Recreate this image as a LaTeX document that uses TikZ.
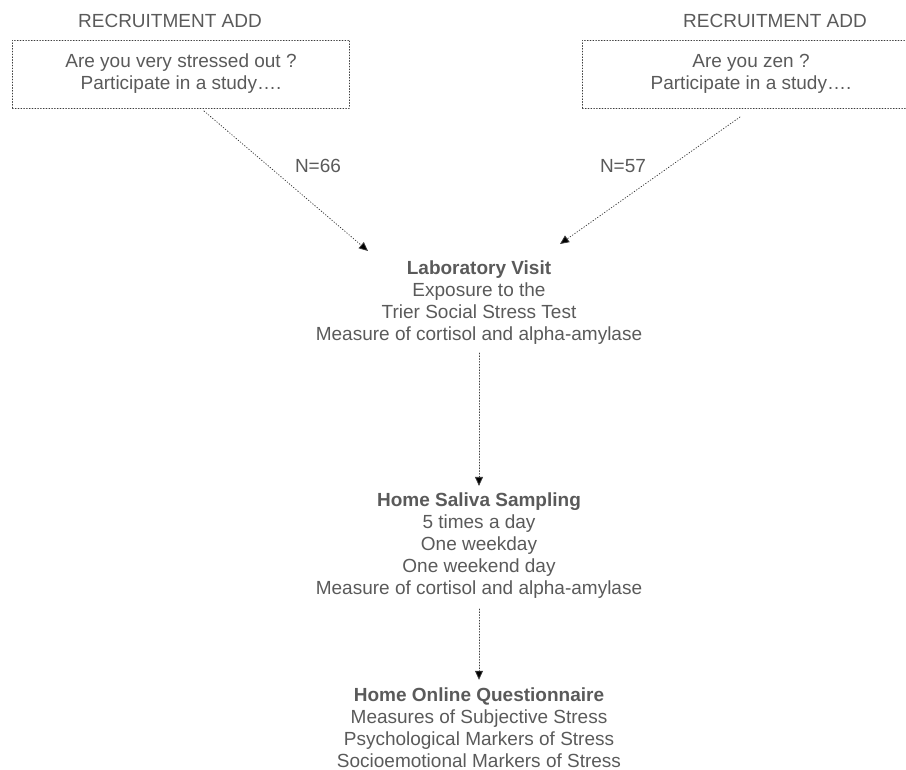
\documentclass[tikz,border=0pt]{standalone}
\usepackage{fontspec}
\setmainfont{Liberation Sans}
\usepackage{tikz}
\usetikzlibrary{arrows.meta,calc,positioning}
\definecolor{flowtext}{HTML}{5A5A5A}
\definecolor{flowline}{HTML}{3C3C3C}
\tikzset{
every picture/.style={line cap=round,line join=round},
>={Triangle[length=9pt,width=8pt,fill=black]},
flow font/.style={font=\fontsize{19}{22}\selectfont, text=flowtext},
add box/.style={
  draw=flowline,
  dotted,
  line width=0.8pt,
  minimum width=337pt,
  minimum height=68pt,
  align=center,
  inner sep=0pt,
  flow font
},
add title/.style={flow font, inner sep=0pt},
step block/.style={flow font, align=center, inner sep=2pt},
count label/.style={flow font, inner sep=0pt},
fig flow/.style={
  draw=flowline,
  ->,
  line width=0.8pt,
  dotted
}
}

\begin{document}
\begin{tikzpicture}[x=1pt,y=-1pt]
\useasboundingbox (0,0) rectangle (906,770);
\clip (0,0) rectangle (906,770);
% recruitment ads
\node[add title] (stresstitle) at (170,21) {RECRUITMENT ADD};
\node[add title] (zentitle) at (775,21) {RECRUITMENT ADD};
\node[add box] (stressadd) at (181,74) {Are you very stressed out ?\\Participate in a study….};
\node[add box] (zenadd) at (751,74) {Are you zen ?\\Participate in a study….};
% study steps
\node[step block] (lab) at (479,303) {\textbf{Laboratory Visit}\\Exposure to the\\Trier Social Stress Test\\Measure of cortisol and alpha-amylase};
\node[step block] (saliva) at (479,546) {\textbf{Home Saliva Sampling}\\5 times a day\\One weekday\\One weekend day\\Measure of cortisol and alpha-amylase};
\node[step block] (online) at (479,728) {\textbf{Home Online Questionnaire}\\Measures of Subjective Stress\\Psychological Markers of Stress\\Socioemotional Markers of Stress};
% connectors
\coordinate (stressout) at (204,111);
\coordinate (stressin) at (368,251);
\coordinate (zenout) at (740,117);
\coordinate (zenin) at (560,244);
\draw[fig flow] (stressout) -- (stressin);
\draw[fig flow] (zenout) -- (zenin);
\node[count label] (stressn) at (318,166) {N=66};
\node[count label] (zenn) at (623,166) {N=57};
\draw[fig flow] ($(lab.south)+(0,6)$) -- ($(saliva.north)+(0,-5)$);
\draw[fig flow] ($(saliva.south)+(0,8)$) -- ($(online.north)+(0,-6)$);
\end{tikzpicture}
\end{document}
